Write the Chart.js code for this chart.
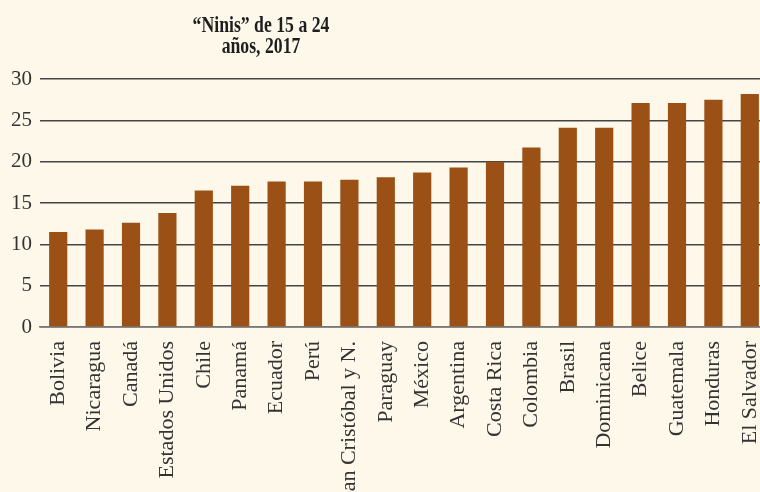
<!DOCTYPE html>
<html>
<head>
<meta charset="utf-8">
<script src="https://cdn.jsdelivr.net/npm/chart.js@4"></script>
<style>
    body { margin: 0; background: #fdf8ea; }
    #wrap { width: 760px; height: 492px; overflow: hidden; }
</style>
</head>
<body>
<div id="wrap"><canvas id="ninis-chart" width="770" height="492"></canvas></div>
<script>
// countries, sorted as in the source
const countries = ["Bolivia", "Nicaragua", "Canadá", "Estados Unidos", "Chile", "Panamá", "Ecuador", "Perú",
    "San Cristóbal y N.", "Paraguay", "México", "Argentina", "Costa Rica", "Colombia", "Brasil", "Dominicana",
    "Belice", "Guatemala", "Honduras", "El Salvador"];
// share of 15-24 year olds not studying or working (%)
const ninis = [11.5, 11.8, 12.6, 13.8, 16.5, 17.1, 17.6, 17.6, 17.8, 18.1, 18.7, 19.3, 20.0, 21.7, 24.1, 24.1,
    27.1, 27.1, 27.5, 28.2];
const titleLines = ["“Ninis” de 15 a 24", "años, 2017"];
const yTicks = [0, 5, 10, 15, 20, 25, 30];

// draws the narrow bold title above the plot
const titlePlugin = {
    id: "narrowTitle",
    afterDraw(chart) {
        const ctx = chart.ctx;
        ctx.save();
        ctx.fillStyle = "#1e1e1e";
        ctx.font = "bold 23px 'Liberation Serif'";
        ctx.textAlign = "center";
        ctx.textBaseline = "alphabetic";
        const baselines = [32, 53];
        titleLines.forEach((line, i) => {
            ctx.save();
            ctx.translate(261, baselines[i]);
            ctx.scale(0.77, 1);
            ctx.fillText(line, 0, 0);
            ctx.restore();
        });
        ctx.restore();
    }
};

let ctx = document.getElementById("ninis-chart").getContext("2d");
new Chart(ctx, {
    type: "bar",
    data: {
        labels: countries,
        datasets: [{
            data: ninis,
            backgroundColor: "#9b5016",
            barPercentage: 0.5,
            categoryPercentage: 1.0,
        }],
    },
    options: {
        responsive: false,
        animation: false,
        layout: { padding: { top: 79, right: 2, left: 0, bottom: 0 } },
        plugins: {
            legend: { display: false },
            tooltip: { enabled: false },
        },
        scales: {
            x: {
                grid: { display: false },
                border: { color: "#777", width: 1.5 },
                ticks: {
                    color: "#333",
                    font: { family: "'Liberation Serif'", size: 22 },
                    minRotation: 90,
                    maxRotation: 90,
                    autoSkip: false,
                    padding: 6,
                },
                // fixed label band, no extra side padding from the rotated labels
                afterFit(scale) {
                    scale.height = 165;
                    scale.paddingLeft = 0;
                    scale.paddingRight = 0;
                },
            },
            y: {
                min: 0,
                max: 30,
                afterBuildTicks(scale) { scale.ticks = yTicks.map(v => ({ value: v })); },
                grid: { color: "#444", lineWidth: 1.4, drawTicks: false },
                border: { display: false },
                ticks: {
                    color: "#333",
                    font: { family: "'Liberation Serif'", size: 21 },
                    padding: 8,
                },
                afterFit(scale) { scale.width = 40; },
            },
        },
    },
    plugins: [titlePlugin],
});
</script>
</body>
</html>
